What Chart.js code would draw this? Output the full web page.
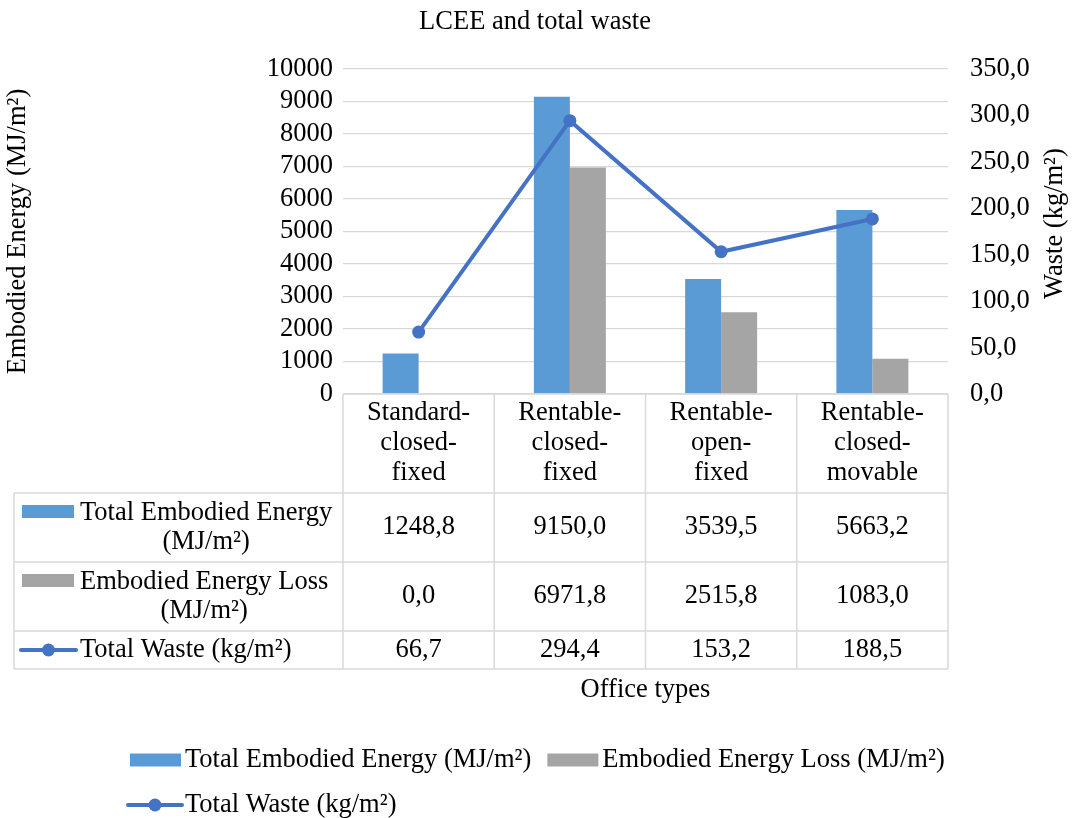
<!DOCTYPE html>
<html>
<head>
<meta charset="utf-8">
<title>LCEE and total waste</title>
<script src="https://cdn.jsdelivr.net/npm/chart.js@4.4.1/dist/chart.umd.min.js"></script>
<style>
  html, body { margin: 0; padding: 0; background: #fff; }
  #wrap { width: 1077px; height: 818px; }
</style>
</head>
<body>
<div id="wrap"><canvas id="chart" width="1077" height="818"></canvas></div>
<script>
// --- Data ---
const categories = [
    ['Standard-', 'closed-', 'fixed'],
    ['Rentable-', 'closed-', 'fixed'],
    ['Rentable-', 'open-', 'fixed'],
    ['Rentable-', 'closed-', 'movable']
];
const totalEnergy = [1248.8, 9150.0, 3539.5, 5663.2];
const energyLoss = [0.0, 6971.8, 2515.8, 1083.0];
const totalWaste = [66.7, 294.4, 153.2, 188.5];

const seriesNames = ['Total Embodied Energy (MJ/m²)', 'Embodied Energy Loss (MJ/m²)', 'Total Waste (kg/m²)'];
const tableLabels = [['Total Embodied Energy', '(MJ/m²)'], ['Embodied Energy Loss', '(MJ/m²)'], ['Total Waste (kg/m²)']];

const chartTitle = 'LCEE and total waste';
const leftAxisTitle = 'Embodied Energy (MJ/m²)';
const rightAxisTitle = 'Waste (kg/m²)';
const xAxisTitle = 'Office types';

const energyMax = 10000, energyStep = 1000;
const wasteMax = 350, wasteStep = 50;

// --- Style ---
const FONT = "'Liberation Serif', 'Times New Roman', serif";
const FS = 26.5;
const colors = { energy: '#5B9BD5', loss: '#A5A5A5', waste: '#4472C4', grid: '#D9D9D9', text: '#000000' };
const fmt1 = v => v.toFixed(1).replace('.', ',');

// table geometry (rows below the plot area)
const table = { left: 14, keyLeft: 22, textLeft: 80, rows: [493, 562, 631, 669] };

function drawKey(ctx, idx, x0, x1, y) {
    if (idx < 2) {
        ctx.fillStyle = idx === 0 ? colors.energy : colors.loss;
        ctx.fillRect(x0, y - 6.5, x1 - x0, 13);
    } else {
        ctx.strokeStyle = colors.waste;
        ctx.lineWidth = 4;
        ctx.lineCap = 'round';
        ctx.beginPath();
        ctx.moveTo(x0, y);
        ctx.lineTo(x1, y);
        ctx.stroke();
        ctx.fillStyle = colors.waste;
        ctx.beginPath();
        ctx.arc((x0 + x1) / 2, y, 6.5, 0, Math.PI * 2);
        ctx.fill();
    }
}

const decorPlugin = {
    id: 'decor',
    afterDraw(chart) {
        const ctx = chart.ctx;
        const area = chart.chartArea;
        const xs = chart.scales.x;
        const n = categories.length;
        const cw = (area.right - area.left) / n;
        ctx.save();
        ctx.font = FS + 'px ' + FONT;
        ctx.fillStyle = colors.text;
        ctx.textBaseline = 'middle';

        // chart title
        ctx.textAlign = 'center';
        ctx.fillText(chartTitle, 535, 22);

        // axis titles
        ctx.save();
        ctx.translate(18, (area.top + area.bottom) / 2);
        ctx.rotate(-Math.PI / 2);
        ctx.fillText(leftAxisTitle, 0, 0);
        ctx.restore();
        ctx.save();
        ctx.translate(1055, (area.top + area.bottom) / 2 - 8);
        ctx.rotate(-Math.PI / 2);
        ctx.fillText(rightAxisTitle, 0, 0);
        ctx.restore();

        // data table borders
        const top = area.bottom;
        const rows = table.rows;
        ctx.strokeStyle = colors.grid;
        ctx.lineWidth = 1.5;
        ctx.beginPath();
        ctx.moveTo(area.left, top);
        ctx.lineTo(area.right, top);
        rows.forEach(y => { ctx.moveTo(table.left, y); ctx.lineTo(area.right, y); });
        for (let i = 0; i <= n; i++) {
            const x = area.left + cw * i;
            ctx.moveTo(x, top);
            ctx.lineTo(x, rows[rows.length - 1]);
        }
        ctx.moveTo(table.left, rows[0]);
        ctx.lineTo(table.left, rows[rows.length - 1]);
        ctx.stroke();

        // category labels
        const lh = 30;
        ctx.fillStyle = colors.text;
        ctx.textAlign = 'center';
        categories.forEach((lines, i) => {
            const cx = xs.getPixelForValue(i);
            const cy = (top + rows[0]) / 2;
            lines.forEach((t, j) => ctx.fillText(t, cx, cy + (j - (lines.length - 1) / 2) * lh));
        });

        // table rows: keys, labels, values
        const series = [totalEnergy, energyLoss, totalWaste];
        series.forEach((vals, r) => {
            const cy = (rows[r] + rows[r + 1]) / 2;
            drawKey(ctx, r, r < 2 ? table.keyLeft : 21, r < 2 ? 74 : 76, r < 2 ? cy - 16 : cy);
            const lines = tableLabels[r];
            const maxW = Math.max(...lines.map(t => ctx.measureText(t).width));
            ctx.fillStyle = colors.text;
            ctx.textAlign = 'center';
            lines.forEach((t, j) => ctx.fillText(t, table.textLeft + maxW / 2, cy + (j - (lines.length - 1) / 2) * 29));
            vals.forEach((v, i) => ctx.fillText(fmt1(v), xs.getPixelForValue(i), cy));
        });

        // x axis title
        ctx.fillText(xAxisTitle, (area.left + area.right) / 2, 690);

        // legend
        ctx.textAlign = 'left';
        let x = 130;
        const y1 = 760, y2 = 805;
        drawKey(ctx, 0, x, x + 51, y1);
        ctx.fillStyle = colors.text;
        ctx.fillText(seriesNames[0], x + 55, y1);
        x = x + 55 + ctx.measureText(seriesNames[0]).width + 16;
        drawKey(ctx, 1, x, x + 51, y1);
        ctx.fillStyle = colors.text;
        ctx.fillText(seriesNames[1], x + 55, y1);
        drawKey(ctx, 2, 128, 182, y2);
        ctx.fillStyle = colors.text;
        ctx.fillText(seriesNames[2], 185, y2);

        ctx.restore();
    }
};

// --- Chart ---
const ctx = document.getElementById('chart').getContext('2d');
new Chart(ctx, {
    type: 'bar',
    data: {
        labels: categories.map(c => c.join('')),
        datasets: [
            {
                type: 'line',
                label: seriesNames[2],
                data: totalWaste,
                yAxisID: 'y1',
                borderColor: colors.waste,
                backgroundColor: colors.waste,
                borderWidth: 4,
                pointRadius: 6.5,
                pointBackgroundColor: colors.waste,
                pointBorderWidth: 0,
                tension: 0,
                order: 0
            },
            {
                label: seriesNames[0],
                data: totalEnergy,
                yAxisID: 'y',
                backgroundColor: colors.energy,
                categoryPercentage: 0.476,
                barPercentage: 1,
                order: 1
            },
            {
                label: seriesNames[1],
                data: energyLoss,
                yAxisID: 'y',
                backgroundColor: colors.loss,
                categoryPercentage: 0.476,
                barPercentage: 1,
                order: 1
            }
        ]
    },
    options: {
        responsive: false,
        animation: false,
        layout: { padding: { top: 69, bottom: 424, left: 0, right: 0 } },
        plugins: {
            legend: { display: false },
            title: { display: false },
            tooltip: { enabled: false }
        },
        scales: {
            x: { display: false },
            y: {
                position: 'left',
                min: 0,
                max: energyMax,
                afterFit: s => { s.width = 343; },
                border: { display: false },
                grid: { color: colors.grid, lineWidth: 1.3, drawTicks: false },
                ticks: {
                    stepSize: energyStep,
                    autoSkip: false,
                    padding: 10,
                    color: colors.text,
                    font: { family: FONT, size: FS },
                    callback: v => String(v)
                }
            },
            y1: {
                position: 'right',
                min: 0,
                max: wasteMax,
                afterFit: s => { s.width = 129; },
                border: { display: false },
                grid: { display: false, drawTicks: false },
                ticks: {
                    stepSize: wasteStep,
                    autoSkip: false,
                    padding: 22,
                    color: colors.text,
                    font: { family: FONT, size: FS },
                    callback: v => fmt1(v)
                }
            }
        }
    },
    plugins: [decorPlugin]
});
</script>
</body>
</html>
